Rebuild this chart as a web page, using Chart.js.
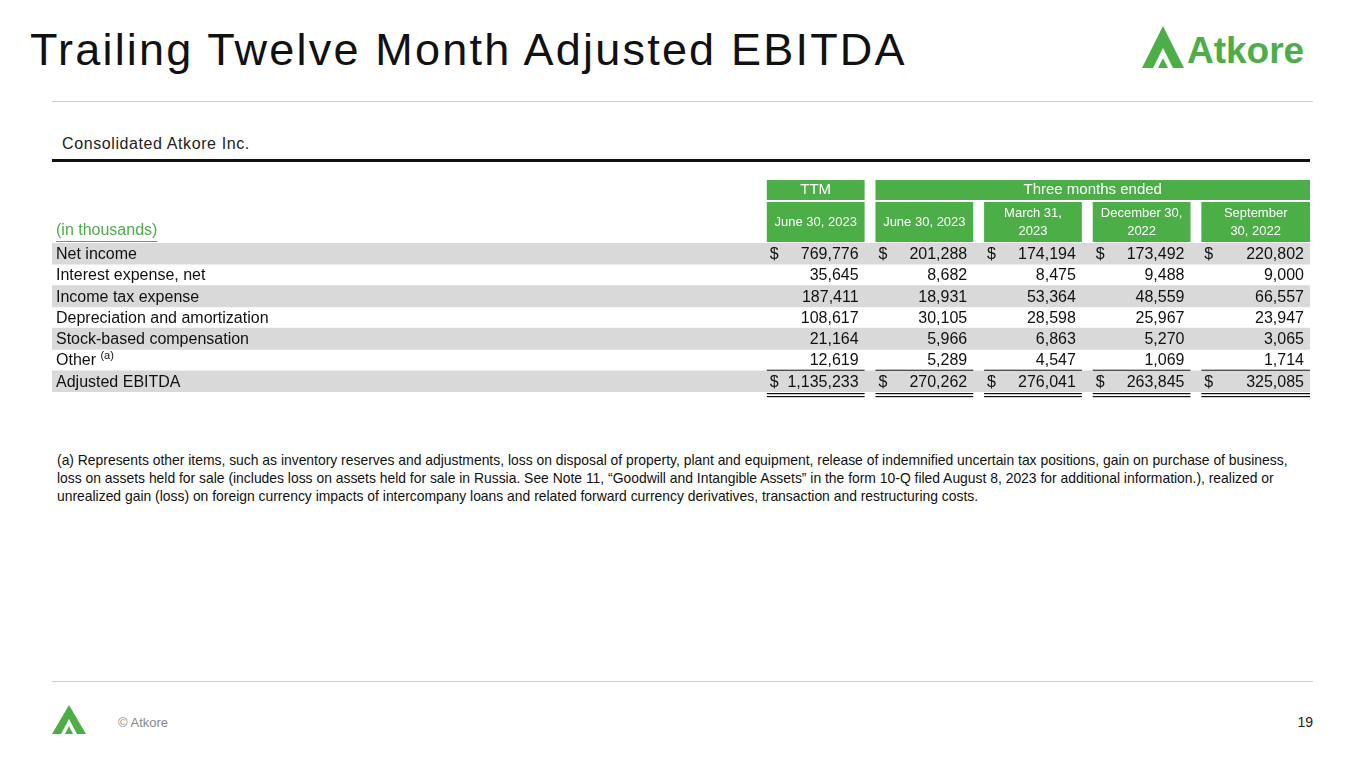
<!DOCTYPE html>
<html>
<head>
<meta charset="utf-8">
<script src="https://cdn.jsdelivr.net/npm/chart.js@4.4.0/dist/chart.umd.min.js"></script>
<style>
  body { margin: 0; width: 1365px; height: 768px; background: #fff; font-family: "Liberation Sans", Arial, sans-serif; position: relative; overflow: hidden; }
  .abs { position: absolute; }
  #title { left: 30px; top: 24px; font-size: 45px; color: #111; letter-spacing: 2.2px; }
  #sub { left: 62px; top: 135px; font-size: 16px; color: #222; letter-spacing: 0.6px; }
  #note { left: 57px; top: 451px; width: 1250px; font-size: 13.9px; line-height: 18px; color: #111; }
  #copy { left: 118px; top: 715px; font-size: 13px; color: #888; }
  #page { right: 52px; top: 714px; font-size: 14px; color: #222; }
  #c { position: absolute; left: 0; top: 0; }
</style>
</head>
<body>
<div class="abs" style="left:52px;top:101px;width:1261px;height:1px;background:#ccc"></div>
<div class="abs" style="left:52px;top:159px;width:1258px;height:3px;background:#111"></div>
<div class="abs" style="left:52px;top:681px;width:1261px;height:1px;background:#ccc"></div>
<div id="title" class="abs">Trailing Twelve Month Adjusted EBITDA</div>
<div id="sub" class="abs">Consolidated Atkore Inc.</div>
<svg class="abs" style="left:1142px;top:24px" width="180" height="46">
  <polygon points="0,44 21,2 42,44 31,44 21,24 11,44" fill="#4cae46"/>
  <polygon points="16,44 21,34 26,44" fill="#4cae46"/>
  <text x="45" y="39" font-family="Liberation Sans, Arial" font-weight="bold" font-size="37" fill="#4cae46">Atkore</text>
</svg>
<svg class="abs" style="left:52px;top:705px" width="36" height="30">
  <polygon points="0,29 17,0 34,29 25,29 17,14 9,29" fill="#4cae46"/>
  <polygon points="13,29 17,21 21,29" fill="#4cae46"/>
</svg>
<div id="copy" class="abs">© Atkore</div>
<div id="page" class="abs">19</div>
<div id="note" class="abs">(a) Represents other items, such as inventory reserves and adjustments, loss on disposal of property, plant and equipment, release of indemnified uncertain tax positions, gain on purchase of business, loss on assets held for sale (includes loss on assets held for sale in Russia. See Note 11, “Goodwill and Intangible Assets” in the form 10-Q filed August 8, 2023 for additional information.), realized or unrealized gain (loss) on foreign currency impacts of intercompany loans and related forward currency derivatives, transaction and restructuring costs.</div>
<canvas id="c" width="1365" height="768"></canvas>
<script>
const rowLabels = ["Net income", "Interest expense, net", "Income tax expense", "Depreciation and amortization", "Stock-based compensation", "Other", "Adjusted EBITDA"];
const columnHeaders = [["June 30, 2023"], ["June 30, 2023"], ["March 31,", "2023"], ["December 30,", "2022"], ["September", "30, 2022"]];
const ttm = ["769,776", "35,645", "187,411", "108,617", "21,164", "12,619", "1,135,233"];
const q2_2023 = ["201,288", "8,682", "18,931", "30,105", "5,966", "5,289", "270,262"];
const q1_2023 = ["174,194", "8,475", "53,364", "28,598", "6,863", "4,547", "276,041"];
const q4_2022 = ["173,492", "9,488", "48,559", "25,967", "5,270", "1,069", "263,845"];
const q3_2022 = ["220,802", "9,000", "66,557", "23,947", "3,065", "1,714", "325,085"];
const columns = [ttm, q2_2023, q1_2023, q4_2022, q3_2022];
const dollarRows = [0, 6];

const GREEN = "#4cae46";
const LABEL_START = -6.58, END = 5, BOX = 0.9;

const tablePlugin = {
  id: "table",
  afterDatasetsDraw(chart) {
    const ctx = chart.ctx, x = chart.scales.x, y = chart.scales.y;
    const rowH = y.getPixelForValue(1) - y.getPixelForValue(0);
    const top = y.getPixelForValue(0) - rowH / 2;
    const font = '16px "Liberation Sans", Arial, sans-serif';
    ctx.save();
    ctx.fillStyle = GREEN;
    ctx.fillRect(x.getPixelForValue(0), top - 63, x.getPixelForValue(BOX) - x.getPixelForValue(0), 20);
    ctx.fillRect(x.getPixelForValue(1), top - 63, x.getPixelForValue(END) - x.getPixelForValue(1), 20);
    ctx.fillStyle = "#fff";
    ctx.font = '15px "Liberation Sans", Arial, sans-serif';
    ctx.textAlign = "center"; ctx.textBaseline = "middle";
    ctx.fillText("TTM", x.getPixelForValue(BOX / 2), top - 53);
    ctx.fillText("Three months ended", (x.getPixelForValue(1) + x.getPixelForValue(END)) / 2, top - 53);
    columnHeaders.forEach((h, i) => {
      const l = x.getPixelForValue(i), r = x.getPixelForValue(i === 4 ? END : i + BOX);
      ctx.fillStyle = GREEN;
      ctx.fillRect(l, top - 41, r - l, 40);
      ctx.fillStyle = "#fff";
      ctx.font = '13px "Liberation Sans", Arial, sans-serif';
      if (h.length === 1) ctx.fillText(h[0], (l + r) / 2, top - 21);
      else { ctx.fillText(h[0], (l + r) / 2, top - 30); ctx.fillText(h[1], (l + r) / 2, top - 12); }
    });
    ctx.fillStyle = GREEN; ctx.textAlign = "left";
    ctx.font = font;
    const lx = x.getPixelForValue(LABEL_START) + 4;
    ctx.fillText("(in thousands)", lx, top - 12);
    const w = ctx.measureText("(in thousands)").width;
    ctx.fillRect(lx, top - 2, w, 1);
    rowLabels.forEach((lab, r) => {
      const cy = y.getPixelForValue(r);
      ctx.fillStyle = "#111"; ctx.textAlign = "left"; ctx.font = font;
      ctx.fillText(lab, lx, cy + 1);
      if (lab === "Other") {
        const lw = ctx.measureText("Other ").width;
        ctx.font = '11px "Liberation Sans", Arial, sans-serif';
        ctx.fillText("(a)", lx + lw, cy - 4);
        ctx.font = font;
      }
      columns.forEach((col, i) => {
        const l = x.getPixelForValue(i), rr = x.getPixelForValue(i === 4 ? END : i + BOX);
        ctx.textAlign = "right";
        ctx.fillText(col[r], rr - 6, cy + 1);
        if (dollarRows.includes(r)) { ctx.textAlign = "left"; ctx.fillText("$", l + 3, cy + 1); }
      });
    });
    ctx.fillStyle = "#111";
    const sep = y.getPixelForValue(6) - rowH / 2, bot = y.getPixelForValue(6) + rowH / 2;
    columns.forEach((c, i) => {
      const l = x.getPixelForValue(i), rr = x.getPixelForValue(i === 4 ? END : i + BOX);
      ctx.fillRect(l, sep - 1, rr - l, 1);
      ctx.fillRect(l, bot + 1, rr - l, 1.2);
      ctx.fillRect(l, bot + 4, rr - l, 1.2);
    });
    ctx.restore();
  }
};

new Chart(document.getElementById("c"), {
  type: "bar",
  data: {
    labels: rowLabels,
    datasets: [{
      data: rowLabels.map(() => [LABEL_START, END]),
      backgroundColor: rowLabels.map((_, i) => i % 2 === 0 ? "#d9d9d9" : "rgba(0,0,0,0)"),
      barPercentage: 1, categoryPercentage: 1, borderWidth: 0
    }]
  },
  options: {
    indexAxis: "y",
    responsive: false, animation: false,
    layout: { padding: { left: 52, right: 55, top: 243, bottom: 376 } },
    plugins: { legend: { display: false }, tooltip: { enabled: false } },
    scales: {
      x: { type: "linear", min: LABEL_START, max: END, display: false },
      y: { type: "category", display: false }
    }
  },
  plugins: [tablePlugin]
});
</script>
</body>
</html>
